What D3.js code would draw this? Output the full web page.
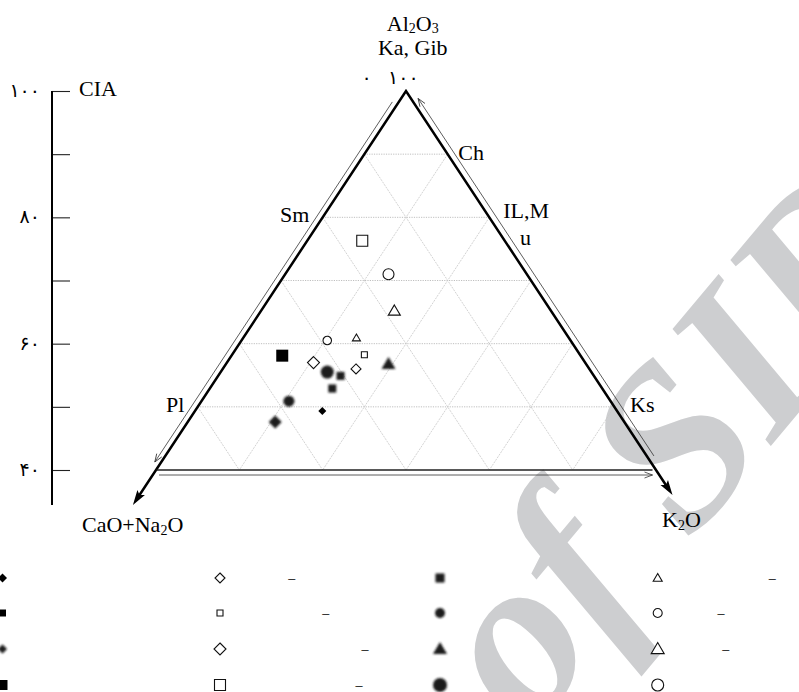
<!DOCTYPE html>
<html><head><meta charset="utf-8">
<script src="https://cdn.jsdelivr.net/npm/d3@7"></script>
<style>body{margin:0;background:#fff}svg{display:block}</style>
</head><body>
<svg id="chart" width="799" height="692"></svg>
<script>
// ---------------- DATA ----------------
// samples in legend order (column by column)
const sampleNames = ["", "", "", "", "", "", "", "", "", "", "", "", "", "", "", ""];
const valA  = [49.4, 52.9, 47.6, 58.1, 56.0, 58.3, 57.0, 76.3, 54.9, 50.9, 56.8, 55.5, 60.9, 60.5, 65.2, 71.0];
const valCN = [35.4, 32.4, 41.9, 35.8, 28.0, 25.9, 32.6, 17.1, 30.4, 38.6, 23.7, 31.7, 25.5, 29.2, 18.8, 16.6];
const valK  = [15.3, 14.7, 10.5,  6.1, 16.0, 15.9, 10.4,  6.6, 14.7, 10.5, 19.5, 12.8, 13.6, 10.3, 16.0, 12.4];
const legendDash = ["", "", "", "", "–", "–", "–", "–", "", "", "", "", "–", "–", "–", ""];
const ciaTicks = [40, 50, 60, 70, 80, 90, 100];
const ciaLabelTicks = [40, 60, 80, 100];
const gridSteps = [10, 20, 30, 40, 50];
const hGrid = [50, 60, 70, 80, 90];
const mineralLabels = ["Pl", "Sm", "Ch", "IL,M", "u", "Ks"];

// ---------------- STYLES / LAYOUT ----------------
const markerStyle = [
  {shape:"dia", w:8,  lw:9,  fill:true,  blur:false, lblur:false},
  {shape:"sqr", w:8,  lw:7,  fill:true,  blur:true,  lblur:false},
  {shape:"dia", w:13, lw:9,  fill:true,  blur:true,  lblur:true},
  {shape:"sqr", w:12, lw:10, fill:true,  blur:false, lblur:false},
  {shape:"dia", w:10, lw:10, fill:false, blur:false, lblur:false},
  {shape:"sqr", w:6,  lw:6,  fill:false, blur:false, lblur:false},
  {shape:"dia", w:12, lw:12, fill:false, blur:false, lblur:false},
  {shape:"sqr", w:11, lw:11, fill:false, blur:false, lblur:false},
  {shape:"sqr", w:8,  lw:9,  fill:true,  blur:true,  lblur:true},
  {shape:"cir", w:11, lw:10, fill:true,  blur:true,  lblur:true},
  {shape:"tri", w:14, lw:14, fill:true,  blur:true,  lblur:true},
  {shape:"cir", w:13, lw:14, fill:true,  blur:true,  lblur:true},
  {shape:"tri", w:8,  lw:9,  fill:false, blur:false, lblur:false},
  {shape:"cir", w:8.5,lw:9,  fill:false, blur:false, lblur:false},
  {shape:"tri", w:12, lw:13, fill:false, blur:false, lblur:false},
  {shape:"cir", w:11, lw:12, fill:false, blur:false, lblur:false}
];
const legendColX = [2.5, 220, 440, 657.7];
const legendRowY = [578, 613, 649, 685];
const legendDashX = [0,0,0,0, 291.7,325.7,365,359, 0,0,0,0, 772.3,721,725.7,0];

const fa = s => String(s).replace(/\d/g, c => "۰۱۲۳۴۵۶۷۸۹"[+c]);
const SERIF = "'Liberation Serif','Times New Roman',serif";
const FA_FONT = "'DejaVu Sans',sans-serif";

const svg = d3.select("#chart");
const defs = svg.append("defs");
defs.append("filter").attr("id","blur").attr("x","-50%").attr("y","-50%").attr("width","200%").attr("height","200%")
  .append("feGaussianBlur").attr("stdDeviation", 0.9);
defs.append("marker").attr("id","arrowFill").attr("viewBox","-9 -5 15 10")
  .attr("refX",0).attr("refY",0).attr("markerWidth",15).attr("markerHeight",10)
  .attr("markerUnits","userSpaceOnUse").attr("orient","auto-start-reverse")
  .append("path").attr("d","M6,0 L-9,-4.5 L-6,0 L-9,4.5 Z").attr("fill","#000");
defs.append("marker").attr("id","arrowOpen").attr("viewBox","-10 -5 12 10")
  .attr("refX",0).attr("refY",0).attr("markerWidth",12).attr("markerHeight",10)
  .attr("markerUnits","userSpaceOnUse").attr("orient","auto-start-reverse")
  .append("path").attr("d","M-8,-3 L0,0 L-8,3").attr("fill","none").attr("stroke","#333").attr("stroke-width",0.8);
defs.append("clipPath").attr("id","page").append("rect").attr("width",799).attr("height",692);

// ---------------- WATERMARK ----------------
svg.append("g").attr("clip-path","url(#page)")
  .append("text").attr("transform","translate(530,733) rotate(-50)")
  .attr("font-family", SERIF).attr("font-style","italic").attr("font-weight","bold")
  .attr("font-size", 230).attr("fill","#cdced0").text("of SID");

// ---------------- SCALES ----------------
const yA = d3.scaleLinear().domain([40, 100]).range([470, 91]);
const xD = d3.scaleLinear().domain([-60, 60]).range([156, 656]);
function proj(a, cn, k) {
  const s = a + cn + k;
  const A = 100*a/s, CN = 100*cn/s, K = 100*k/s;
  return [xD(K - CN), yA(A)];
}
const line = d3.line();

// ---------------- GRID ----------------
const g = svg.append("g");
hGrid.forEach(a => {
  g.append("path").attr("d", line([proj(a, 100-a, 0), proj(a, 0, 100-a)]))
   .attr("stroke","#b8b8b8").attr("stroke-width",0.9).attr("stroke-dasharray","1.2,1.2").attr("fill","none");
});
gridSteps.forEach(v => {
  g.append("path").attr("d", line([proj(100-v, 0, v), proj(40, 60-v, v)]))
   .attr("stroke","#c8c8c8").attr("stroke-width",0.8).attr("stroke-dasharray","2,1").attr("fill","none");
  g.append("path").attr("d", line([proj(100-v, v, 0), proj(40, v, 60-v)]))
   .attr("stroke","#c8c8c8").attr("stroke-width",0.8).attr("stroke-dasharray","2,1").attr("fill","none");
});

// ---------------- TRIANGLE ----------------
const apex = proj(100, 0, 0);
const baseL = proj(40, 60, 0), baseR = proj(40, 0, 60);
function along(p, q, t) { return [p[0] + (q[0]-p[0])*t, p[1] + (q[1]-p[1])*t]; }
const tipL = proj(34.46, 65.54, 0), tipR = proj(36.04, 0, 63.96);
const endL = along(tipL, apex, 6/Math.hypot(apex[0]-tipL[0], apex[1]-tipL[1]));
const endR = along(tipR, apex, 6/Math.hypot(apex[0]-tipR[0], apex[1]-tipR[1]));
svg.append("path").attr("d", line([endL, apex, endR])).attr("fill","none")
  .attr("stroke","#000").attr("stroke-width",2.5).attr("stroke-linejoin","miter")
  .attr("marker-start","url(#arrowFill)").attr("marker-end","url(#arrowFill)");

function offsetPt(p, n, d) { return [p[0] + n[0]*d, p[1] + n[1]*d]; }
const dl = [baseL[0]-apex[0], baseL[1]-apex[1]], dlen = Math.hypot(dl[0], dl[1]);
let nL = [-dl[1]/dlen, dl[0]/dlen]; if (nL[0] > 0) nL = [-nL[0], -nL[1]];
const dr = [baseR[0]-apex[0], baseR[1]-apex[1]], drlen = Math.hypot(dr[0], dr[1]);
let nR = [dr[1]/drlen, -dr[0]/drlen]; if (nR[0] < 0) nR = [-nR[0], -nR[1]];
svg.append("path").attr("d", line([offsetPt(proj(97.8, 2.2, 0), nL, 5.4), offsetPt(proj(40.8, 59.2, 0), nL, 5.4)]))
  .attr("stroke","#333").attr("stroke-width",0.8).attr("fill","none").attr("marker-end","url(#arrowOpen)");
svg.append("path").attr("d", line([offsetPt(proj(41.7, 0, 58.3), nR, 6), offsetPt(proj(98.3, 0, 1.7), nR, 6)]))
  .attr("stroke","#333").attr("stroke-width",0.8).attr("fill","none").attr("marker-end","url(#arrowOpen)");
svg.append("path").attr("d", line([[baseL[0]+0.5, baseL[1]], [baseR[0]-3.5, baseR[1]]]))
  .attr("stroke","#222").attr("stroke-width",1.4).attr("fill","none");
svg.append("path").attr("d", line([[baseL[0]+3, baseL[1]+5], [baseR[0]-3.5, baseR[1]+5]]))
  .attr("stroke","#333").attr("stroke-width",0.8).attr("fill","none").attr("marker-end","url(#arrowOpen)");

// ---------------- CIA AXIS ----------------
const ax = svg.append("g").attr("transform","translate(52,0)");
ax.call(d3.axisRight(yA).tickValues(ciaTicks).tickSize(18).tickFormat(""));
ax.select(".domain").remove();
ax.selectAll(".tick line").attr("stroke","#222").attr("stroke-width",1.1);
ax.append("line").attr("x1",0).attr("x2",0).attr("y1",yA(100)).attr("y2",505)
  .attr("stroke","#000").attr("stroke-width",2);
svg.append("g").selectAll("text").data(ciaLabelTicks).join("text")
  .attr("x",40).attr("y",d => yA(d) + 6).attr("text-anchor","end")
  .attr("font-family",FA_FONT).attr("font-size",19).attr("fill","#000")
  .text(d => fa(d));
svg.append("text").attr("x",79).attr("y",95.5).attr("font-family",SERIF).attr("font-size",22).text("CIA");

// ---------------- LABELS ----------------
function chem(x, y, anchor, parts) {
  const t = svg.append("text").attr("x",x).attr("y",y).attr("text-anchor",anchor)
    .attr("font-family",SERIF).attr("font-size",22).attr("fill","#000");
  let prevSub = false;
  parts.forEach(([s, sub]) => {
    const ts = t.append("tspan").text(s);
    if (sub) ts.attr("dy", 2.5).attr("font-size", 14);
    else if (prevSub) ts.attr("dy", -2.5);
    prevSub = sub;
  });
  return t;
}
chem(412.7, 30.5, "middle", [["Al",0],["2",1],["O",0],["3",1]]);
chem(412.8, 55, "middle", [["Ka, Gib",0]]);
chem(82, 532, "start", [["CaO+Na",0],["2",1],["O",0]]);
chem(662, 527, "start", [["K",0],["2",1],["O",0]]);
svg.append("text").attr("x",366.7).attr("y",84).attr("text-anchor","middle")
  .attr("font-family",FA_FONT).attr("font-size",19).text(fa(0));
svg.append("text").attr("x",403.3).attr("y",84).attr("text-anchor","middle")
  .attr("font-family",FA_FONT).attr("font-size",19).text(fa(100));

const mineralPos = [[166,412],[280,221.7],[458.3,160],[503.3,218],[520,245],[630,411.7]];
svg.append("g").selectAll("text").data(mineralLabels).join("text")
  .attr("x",(d,i)=>mineralPos[i][0]).attr("y",(d,i)=>mineralPos[i][1])
  .attr("font-family",SERIF).attr("font-size",22).text(d=>d);

// ---------------- SYMBOLS ----------------
const shapes = {
  sqr: {draw(c, w){ c.rect(-w/2, -w/2, w, w); }},
  dia: {draw(c, w){ const r = w/2; c.moveTo(0,-r); c.lineTo(r,0); c.lineTo(0,r); c.lineTo(-r,0); c.closePath(); }},
  cir: {draw(c, w){ c.moveTo(w/2,0); c.arc(0,0,w/2,0,2*Math.PI); }},
  tri: {draw(c, w){ const h = w*0.85; c.moveTo(0,-h*0.58); c.lineTo(w/2,h*0.42); c.lineTo(-w/2,h*0.42); c.closePath(); }}
};
function styleMark(sel, st, blur) {
  sel.attr("fill", st.fill ? (blur ? "#1a1a1a" : "#000") : "#fff").attr("stroke", st.fill ? "none" : "#111")
     .attr("stroke-width", st.fill ? 0 : 1.1);
  if (blur) sel.attr("filter","url(#blur)");
}
const pg = svg.append("g");
sampleNames.forEach((n, i) => {
  const st = markerStyle[i];
  const p = proj(valA[i], valCN[i], valK[i]);
  const m = pg.append("path").attr("d", d3.symbol().type(shapes[st.shape]).size(st.w)())
    .attr("transform", `translate(${p[0]},${p[1]})`);
  styleMark(m, st, st.blur);
});

// ---------------- LEGEND ----------------
const lg = svg.append("g");
sampleNames.forEach((n, i) => {
  const col = Math.floor(i/4), row = i % 4;
  const st = markerStyle[i];
  const x = legendColX[col], y = legendRowY[row];
  const m = lg.append("path").attr("d", d3.symbol().type(shapes[st.shape]).size(st.lw)())
    .attr("transform", `translate(${x},${y})`);
  styleMark(m, st, st.lblur);
  if (legendDash[i]) {
    lg.append("text").attr("x", legendDashX[i]).attr("y", y + 5).attr("text-anchor","middle")
      .attr("font-family",SERIF).attr("font-size",14).text(n + legendDash[i]);
  }
});
</script>
</body></html>
